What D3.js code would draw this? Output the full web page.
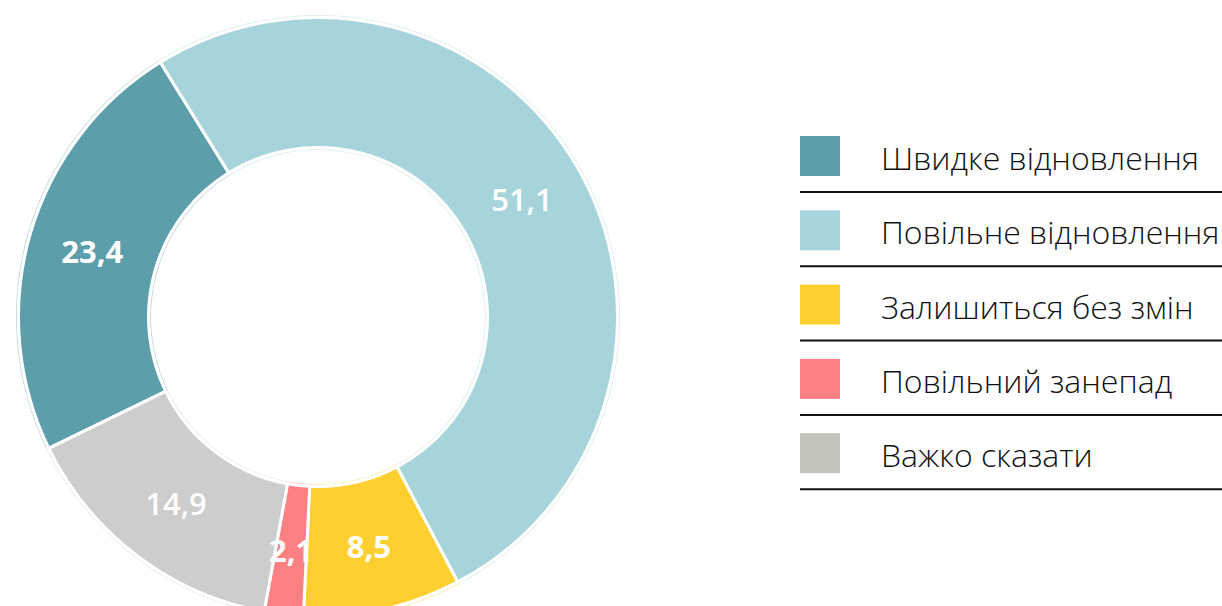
<!DOCTYPE html>
<html>
<head>
<meta charset="utf-8">
<script src="https://cdn.jsdelivr.net/npm/d3@7"></script>
<style>
  html, body { margin: 0; padding: 0; background: #ffffff; }
  svg { display: block; }
</style>
</head>
<body>
<svg id="chart" width="1222" height="606"></svg>
<script>
// Очікування щодо відновлення, % респондентів
const categories = [
  "Швидке відновлення",
  "Повільне відновлення",
  "Залишиться без змін",
  "Повільний занепад",
  "Важко сказати"
];
const values = [23.4, 51.1, 8.5, 2.1, 14.9];
const sliceColors = ["#5c9fab", "#a6d4da", "#ffce2f", "#fd8183", "#cdcdcd"];
const swatchColors = ["#5c9fab", "#a6d4da", "#ffce2f", "#fd8183", "#c4c4bc"];
// labels on the pale slices are set a little lighter
const labelWeights = [700, 600, 700, 700, 600];

const uaFormat = d3.formatLocale({
  decimal: ",", thousands: " ", grouping: [3], currency: ["", " ₴"]
}).format(".1f");

const svg = d3.select("#chart");

// ---- donut ----
const cx = 318, cy = 317;
const outerR = 299.5, innerR = 169.5;
const startAngle = -116 * Math.PI / 180;

const pie = d3.pie()
  .sort(null)
  .value(d => d.value)
  .startAngle(startAngle)
  .endAngle(startAngle + 2 * Math.PI);

const data = categories.map((c, i) => ({ name: c, value: values[i], i }));
const arcs = pie(data);

const arc = d3.arc().innerRadius(innerR).outerRadius(outerR);
const haloOuter = d3.arc().innerRadius(outerR + 1.5).outerRadius(outerR + 2.6);
const haloInner = d3.arc().innerRadius(innerR - 2.6).outerRadius(innerR - 1.5);
const labelArc = d3.arc().innerRadius(235).outerRadius(235);

const g = svg.append("g").attr("transform", `translate(${cx},${cy})`);

// faint rim just outside the ring edges
g.selectAll("path.halo-o").data(arcs).join("path")
  .attr("class", "halo-o")
  .attr("d", haloOuter)
  .attr("fill", d => sliceColors[d.data.i])
  .attr("opacity", 0.35);
g.selectAll("path.halo-i").data(arcs).join("path")
  .attr("class", "halo-i")
  .attr("d", haloInner)
  .attr("fill", d => sliceColors[d.data.i])
  .attr("opacity", 0.35);

g.selectAll("path.slice").data(arcs).join("path")
  .attr("class", "slice")
  .attr("d", arc)
  .attr("fill", d => sliceColors[d.data.i])
  .attr("stroke", "#ffffff")
  .attr("stroke-width", 3)
  .attr("stroke-linejoin", "miter");

g.selectAll("text.value").data(arcs).join("text")
  .attr("class", "value")
  .attr("transform", d => `translate(${labelArc.centroid(d)})`)
  .attr("text-anchor", "middle")
  .attr("dy", "0.36em")
  .attr("fill", "#ffffff")
  .style("font-family", "'Open Sans', 'Noto Sans', sans-serif")
  .style("font-size", "31px")
  .style("font-weight", d => labelWeights[d.data.i])
  .text(d => uaFormat(d.data.value));

// ---- legend ----
const legendX = 800, legendTop = 136, rowStep = 74.3;
const legend = svg.append("g");

const rows = legend.selectAll("g.row").data(categories).join("g")
  .attr("class", "row")
  .attr("transform", (d, i) => `translate(${legendX},${legendTop + i * rowStep})`);

rows.append("rect")
  .attr("x", 0).attr("y", 0)
  .attr("width", 40).attr("height", 40)
  .attr("fill", (d, i) => swatchColors[i]);

rows.append("text")
  .attr("x", 81)
  .attr("y", 34)
  .attr("fill", "#111111")
  .style("font-family", "'Open Sans', 'Noto Sans', sans-serif")
  .style("font-size", "32px")
  .style("font-weight", 300)
  .text(d => d);

rows.append("line")
  .attr("x1", 0).attr("x2", 1222 - legendX)
  .attr("y1", 56).attr("y2", 56)
  .attr("stroke", "#111111")
  .attr("stroke-width", 2);
</script>
</body>
</html>
